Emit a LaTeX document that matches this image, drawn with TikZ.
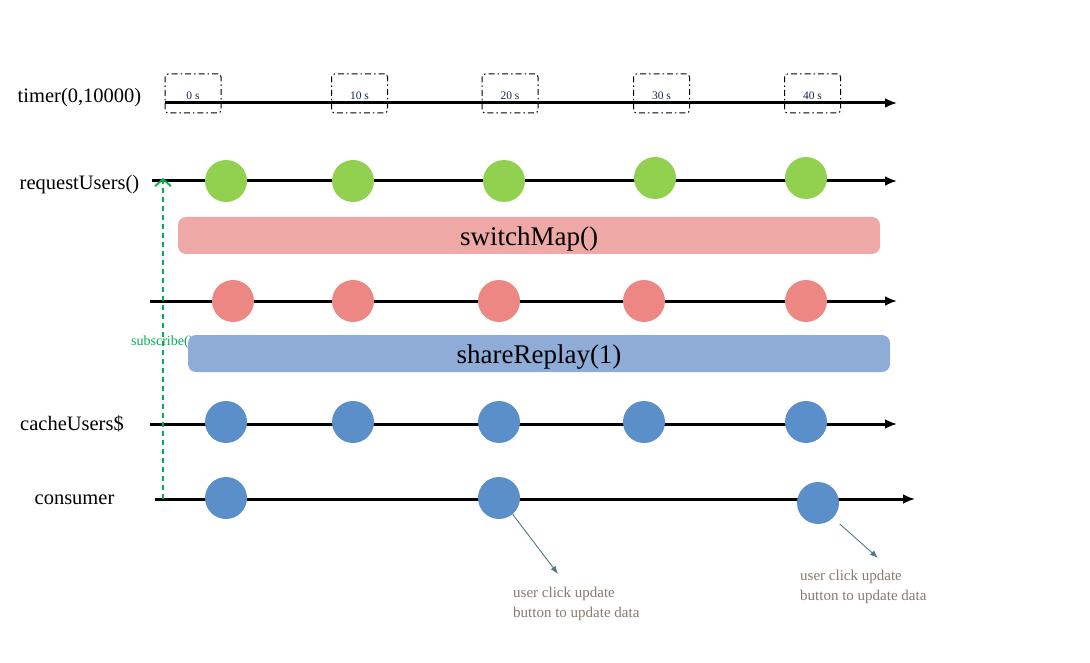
\documentclass[tikz,border=0pt]{standalone}
\usepackage{fontspec}
\setmainfont{Liberation Serif}
\usetikzlibrary{arrows.meta}

\definecolor{ballGreen}{RGB}{146,208,80}
\definecolor{ballRed}{RGB}{236,135,131}
\definecolor{ballBlue}{RGB}{91,143,201}
\definecolor{barRed}{RGB}{238,168,166}
\definecolor{barBlue}{RGB}{143,172,214}
\definecolor{subGreen}{RGB}{0,176,80}
\definecolor{noteGrey}{RGB}{135,122,110}
\definecolor{noteArrow}{RGB}{80,120,128}
\definecolor{tickText}{RGB}{20,40,80}

\begin{document}
\begin{tikzpicture}[x=1pt, y=-1pt, >=latex]

% --- Styles ---
\tikzset{
    timeline/.style={-{Latex[length=12pt, width=10pt]}, line width=3pt, draw=black},
    rowlabel/.style={font=\fontsize{20.5}{24}\selectfont, text=black, inner sep=0pt},
    tickbox/.style={draw=black, line width=1pt, rounded corners=3pt,
        dash pattern=on 6pt off 3pt on 1.5pt off 3pt,
        minimum width=56pt, minimum height=39pt, inner sep=0pt},
    ticktext/.style={font=\fontsize{11.5}{12}\selectfont, text=tickText, inner sep=0pt},
    ball/.style={circle, minimum size=42pt, inner sep=0pt, draw=none},
    greenball/.style={ball, fill=ballGreen},
    redball/.style={ball, fill=ballRed},
    blueball/.style={ball, fill=ballBlue},
    opbar/.style={rounded corners=8pt, minimum width=702pt, minimum height=37pt, inner sep=0pt},
    optext/.style={font=\fontsize{27}{30}\selectfont, inner sep=0pt},
    note/.style={align=left, anchor=north west, inner sep=0pt,
        font=\fontsize{15}{20}\selectfont, text=noteGrey},
    notearrow/.style={-{Latex[length=8pt, width=6pt]}, draw=noteArrow, line width=0.9pt},
    subarrow/.style={-{Straight Barb[length=7pt, width=16pt, line width=1.8pt]},
        draw=subGreen, line width=2.2pt, dash pattern=on 5pt off 4pt}
}

\useasboundingbox (0,0) rectangle (1090,663);

% --- timer(0,10000) ---
\node[rowlabel] (lblTimer) at (79.5,98) {timer(0,10000)};
\coordinate (tmS) at (165,103);
\coordinate (tmE) at (897,103);
\draw[timeline] (tmS) -- (tmE);
\node[tickbox] (t0) at (193,93.5) {};
\node[tickbox] (t1) at (359.5,93.5) {};
\node[tickbox] (t2) at (510,93.5) {};
\node[tickbox] (t3) at (661.5,93.5) {};
\node[tickbox] (t4) at (812.5,93.5) {};
\node[ticktext] (s0) at (193,96) {0 s};
\node[ticktext] (s1) at (359.5,96) {10 s};
\node[ticktext] (s2) at (510,96) {20 s};
\node[ticktext] (s3) at (661.5,96) {30 s};
\node[ticktext] (s4) at (812.5,96) {40 s};

% --- requestUsers() ---
\node[rowlabel] (lblRequest) at (79.5,185) {requestUsers()};
\coordinate (rqS) at (152,181);
\coordinate (rqE) at (897,181);
\draw[timeline] (rqS) -- (rqE);
\node[greenball] (g1) at (226,181) {};
\node[greenball] (g2) at (353,181) {};
\node[greenball] (g3) at (504,181) {};
\node[greenball] (g4) at (655,178) {};
\node[greenball] (g5) at (806,178) {};

% --- switchMap() ---
\node[opbar, fill=barRed] (swMap) at (529,235.5) {};
\node[optext] (swMapTxt) at (529,239) {switchMap()};

% --- tussenstroom ---
\coordinate (mdS) at (150,301);
\coordinate (mdE) at (897,301);
\draw[timeline] (mdS) -- (mdE);
\node[redball] (r1) at (233,301) {};
\node[redball] (r2) at (353,301) {};
\node[redball] (r3) at (499,301) {};
\node[redball] (r4) at (644,301) {};
\node[redball] (r5) at (806,301) {};

% --- subscribe + shareReplay(1) ---
\node[anchor=west, inner sep=0pt, font=\fontsize{14}{15}\selectfont, text=subGreen]
    (lblSub) at (131,342) {subscribe()};
\node[opbar, fill=barBlue] (shReplay) at (539,353.5) {};
\node[optext] (shReplayTxt) at (539,357) {shareReplay(1)};

% --- cacheUsers$ ---
\node[rowlabel] (lblCache) at (72,424) {cacheUsers\$};
\coordinate (chS) at (150,424);
\coordinate (chE) at (897,424);
\draw[timeline] (chS) -- (chE);
\node[blueball] (b1) at (226,422) {};
\node[blueball] (b2) at (353,422) {};
\node[blueball] (b3) at (499,422) {};
\node[blueball] (b4) at (644,422) {};
\node[blueball] (b5) at (806,422) {};

% --- consumer ---
\node[rowlabel] (lblConsumer) at (74.5,500) {consumer};
\coordinate (csS) at (155,499);
\coordinate (csE) at (915,499);
\draw[timeline] (csS) -- (csE);

% subscribe: consumer -> requestUsers()
\coordinate (subS) at (163,499);
\coordinate (subE) at (163,178);
\draw[subarrow] (subS) -- (subE);

\node[blueball] (c1) at (226,498) {};
\node[blueball] (c2) at (499,498) {};
\node[blueball] (c3) at (818,503) {};

% --- user click update ---
\coordinate (n1) at (558,574);
\draw[notearrow] (c2.-50) -- (n1);
\node[note] (txt1) at (513,587) {user click update\\button to update data};

\coordinate (n2) at (878,558);
\draw[notearrow, shorten <=9pt] (c3.-45) -- (n2);
\node[note] (txt2) at (800,570) {user click update\\button to update data};

\end{tikzpicture}
\end{document}
